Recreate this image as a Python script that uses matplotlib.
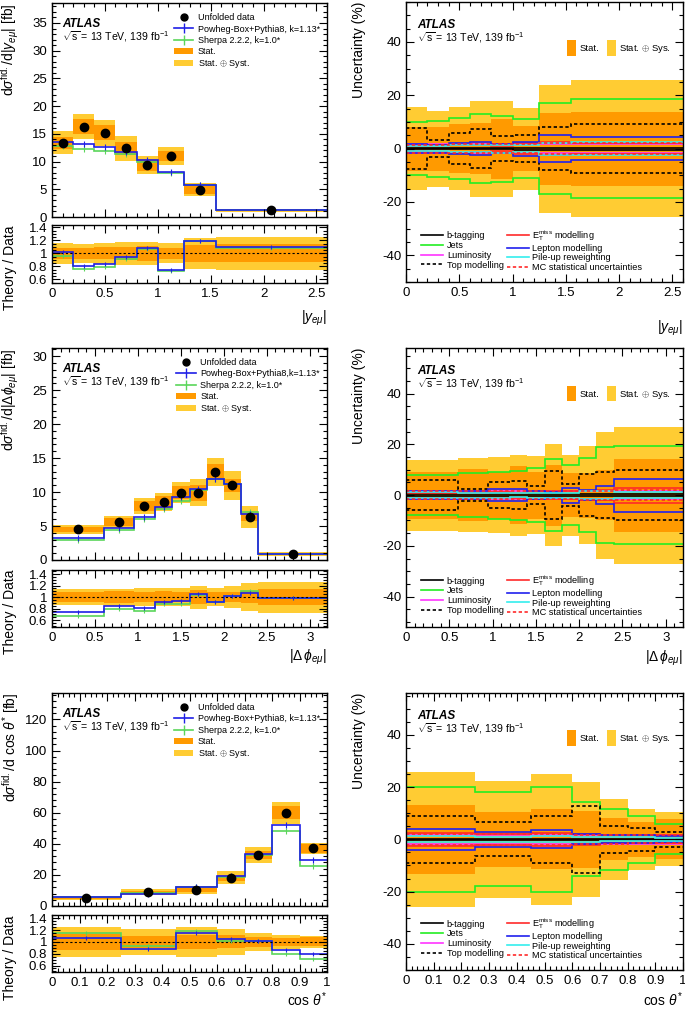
import numpy as np
import matplotlib
matplotlib.use("Agg")
import matplotlib.pyplot as plt
from matplotlib.ticker import MultipleLocator, FormatStrFormatter
from matplotlib.lines import Line2D
from matplotlib.patches import Patch

plt.rcParams["font.family"] = ["Liberation Sans", "DejaVu Sans"]
plt.rcParams["mathtext.fontset"] = "custom"
plt.rcParams["mathtext.rm"] = "Liberation Sans"
plt.rcParams["mathtext.it"] = "Liberation Sans:italic"
plt.rcParams["mathtext.bf"] = "Liberation Sans:bold"

# |y_emu|
y_edges = [0, 0.2, 0.4, 0.6, 0.8, 1.0, 1.25, 1.55, 2.6]
y_data = [13.4, 16.3, 15.2, 12.4, 9.4, 11.0, 4.9, 1.2]
y_powheg = [13.6, 13.1, 12.6, 11.65, 10.2, 8.2, 5.85, 1.32]
y_sherpa = [12.8, 12.3, 11.9, 11.4, 10.0, 8.0, 5.8, 1.3]
y_stat = [8.2, 8.2, 9.1, 9.5, 11.3, 8.5, 13.5, 13.9]
y_total = [15.6, 14.2, 15.6, 18.0, 18.0, 15.4, 24.0, 25.6]
y_btag = [0.3, 0.3, 0.3, 0.3, 0.3, 0.4, 0.4, 0.4]
y_jets = [9.9, 10.5, 11.4, 12.9, 12.4, 11.0, 17.0, 18.6]
y_lumi = [1.7, 1.7, 1.7, 1.7, 1.7, 1.7, 1.7, 1.7]
y_top = [7.6, 3.2, 5.7, 7.2, 4.8, 5.1, 8.0, 9.2]
y_met = [1.0, 1.2, 1.5, 1.2, 1.0, 2.0, 2.5, 2.0]
y_lep = [1.8, 1.5, 2.0, 2.5, 1.6, 2.6, 5.0, 4.2]
y_pileup = [1.0, 1.0, 1.2, 1.3, 1.5, 1.2, 2.2, 2.5]
y_mcstat = [1.5, 1.5, 1.6, 1.7, 1.7, 1.8, 2.0, 2.0]

# |dphi_emu|
phi_edges = [0, 0.6, 0.95, 1.2, 1.4, 1.6, 1.8, 2.0, 2.2, 2.4, 3.2]
phi_data = [4.5, 5.6, 7.9, 8.5, 9.9, 9.9, 13.0, 11.0, 6.3, 0.9]
phi_powheg = [3.3, 4.75, 6.35, 7.75, 9.2, 10.45, 11.95, 11.2, 6.75, 0.89]
phi_sherpa = [3.0, 4.4, 6.05, 7.45, 8.7, 10.25, 11.9, 11.2, 7.0, 0.89]
phi_stat = [9.3, 10.3, 9.3, 11.3, 9.3, 12.0, 8.7, 8.9, 10.0, 14.4]
phi_total = [14.0, 14.7, 15.0, 16.0, 15.3, 20.0, 16.0, 19.3, 25.0, 27.0]
phi_btag = [0.3, 0.3, 0.3, 0.3, 0.3, 0.3, 0.3, 0.3, 0.4, 0.4]
phi_jets = [8.0, 8.7, 9.3, 9.7, 10.7, 14.3, 11.7, 14.7, 19.0, 19.3]
phi_lumi = [1.7, 1.7, 1.7, 1.7, 1.7, 1.7, 1.7, 1.7, 1.7, 1.7]
phi_top = [6.0, 2.4, 5.0, 5.6, 3.7, 9.6, 4.4, 8.3, 9.0, 10.0]
phi_met = [1.0, 1.0, 1.2, 1.0, 1.5, 1.5, 1.5, 1.5, 2.0, 3.0]
phi_lep = [1.5, 1.5, 2.5, 2.3, 1.5, 1.3, 3.0, 2.0, 3.5, 6.5]
phi_pileup = [1.2, 1.0, 1.0, 0.8, 1.0, 1.0, 1.0, 1.5, 1.5, 1.2]
phi_mcstat = [1.5, 1.5, 1.5, 1.5, 1.6, 1.6, 1.7, 1.8, 1.8, 2.0]

# cos theta*
cos_edges = [0, 0.25, 0.45, 0.6, 0.7, 0.8, 0.9, 1.0]
cos_data = [5.2, 8.8, 10.4, 18.2, 32.7, 60.0, 37.0]
cos_powheg = [5.55, 7.8, 12.0, 19.1, 33.4, 52.2, 29.6]
cos_sherpa = [6.0, 8.15, 12.3, 18.4, 33.0, 48.0, 26.0]
cos_stat = [13.1, 10.6, 11.5, 10.8, 8.0, 6.7, 7.6]
cos_total = [25.9, 22.4, 25.0, 22.1, 15.4, 11.8, 10.3]
cos_btag = [0.3, 0.3, 0.3, 0.3, 0.3, 0.3, 0.3]
cos_jets = [20.2, 18.0, 20.2, 14.1, 11.8, 8.9, 5.8]
cos_lumi = [1.7, 1.7, 1.7, 1.7, 1.7, 1.7, 1.7]
cos_top = [8.9, 6.5, 9.0, 12.7, 5.1, 4.4, 2.9]
cos_met = [2.5, 2.0, 2.5, 2.0, 1.5, 1.5, 1.5]
cos_lep = [3.9, 2.9, 3.5, 1.9, 1.5, 1.5, 1.2]
cos_pileup = [1.2, 1.0, 1.2, 1.0, 0.8, 0.8, 0.7]
cos_mcstat = [2.0, 2.0, 2.0, 1.7, 1.6, 1.5, 1.5]

ORANGE = "#ff9a00"
YELLOW = "#ffcc33"
BLUE = "#1f1fe6"
GREEN = "#5ad65a"

W, H = 685, 1010
fig = plt.figure(figsize=(W / 100, H / 100), dpi=100)


def box(x0, y0, x1, y1):
    return [x0 / W, 1 - y1 / H, (x1 - x0) / W, (y1 - y0) / H]


def style(ax, xmaj, xmin, ymaj, ymin):
    ax.xaxis.set_major_locator(MultipleLocator(xmaj))
    ax.xaxis.set_minor_locator(MultipleLocator(xmin))
    ax.yaxis.set_major_locator(MultipleLocator(ymaj))
    ax.yaxis.set_minor_locator(MultipleLocator(ymin))
    ax.tick_params(which="both", direction="in", top=True, right=True, labelsize=9.5)
    ax.tick_params(which="major", length=6, width=0.8)
    ax.tick_params(which="minor", length=3, width=0.8)
    ax.xaxis.set_major_formatter(FormatStrFormatter("%g"))
    ax.yaxis.set_major_formatter(FormatStrFormatter("%g"))
    for s in ax.spines.values():
        s.set_linewidth(1.0)


def atlas(ax, x, y, dy):
    ax.text(x, y, "ATLAS", transform=ax.transAxes, fontsize=8.5,
            fontweight="bold", fontstyle="italic", va="center")
    ax.text(x, y - dy, r"$\sqrt{\mathrm{s}}$ = 13 TeV, 139 fb$^{-1}$",
            transform=ax.transAxes, fontsize=7.6, va="center")


def row(top, edges, data, powheg, sherpa, stat, total, systs, xmaj, xmin,
        ymain, ymaj, ymin, rlim, xlabel, ylabel, urlim, xlab_off, rxlab_off):
    t0, t1, r0, r1, u0, u1 = top
    edges = np.array(edges)
    data = np.array(data)
    powheg = np.array(powheg)
    sherpa = np.array(sherpa)
    stat = np.array(stat) / 100
    total = np.array(total) / 100
    centers = 0.5 * (edges[1:] + edges[:-1])

    # main panel
    ax = fig.add_axes(box(52, t0, 327, t1))
    ax.stairs(data * (1 + total), edges, baseline=data * (1 - total),
              fill=True, color=YELLOW, lw=0)
    ax.stairs(data * (1 + stat), edges, baseline=data * (1 - stat),
              fill=True, color=ORANGE, lw=0)
    ax.stairs(sherpa, edges, baseline=None, color=GREEN, lw=1.2)
    ax.plot(centers, sherpa, ls="none", marker="|", ms=4, color=GREEN, mew=0.8)
    ax.stairs(powheg, edges, baseline=None, color=BLUE, lw=1.2)
    ax.plot(centers, powheg, ls="none", marker="|", ms=4, color=BLUE, mew=0.8)
    ax.plot(centers, data, "o", color="black", ms=6)
    ax.set_xlim(edges[0], edges[-1])
    ax.set_ylim(0, ymain)
    style(ax, xmaj, xmin, ymaj, ymin)
    ax.tick_params(labelbottom=False)
    ax.set_ylabel(ylabel, loc="top", fontsize=10)
    ax.yaxis.set_label_coords(-31 / 275, 1)
    atlas(ax, 0.036, 0.9, 0.057)
    handles = [
        Line2D([], [], ls="none", marker="o", color="black", ms=5),
        Line2D([], [], color=BLUE, lw=1.2, marker="|", ms=7),
        Line2D([], [], color=GREEN, lw=1.2, marker="|", ms=7),
        Patch(color=ORANGE, lw=0),
        Patch(color=YELLOW, lw=0),
    ]
    labels = ["Unfolded data", "Powheg-Box+Pythia8, k=1.13*",
              "Sherpa 2.2.2, k=1.0*", "Stat.", "Stat. $\\oplus$ Syst."]
    if "phi" in xlabel:
        labels[1] = "Powheg-Box+Pythia8,k=1.13*"
    ax.legend(handles, labels, loc="upper right", bbox_to_anchor=(0.975, 0.952),
              frameon=False, fontsize=6.5, handlelength=2.2, handletextpad=0.5,
              labelspacing=0.25, borderpad=0, borderaxespad=0, numpoints=1)

    # ratio panel
    rx = fig.add_axes(box(52, r0, 327, r1))
    rx.stairs(1 + total, edges, baseline=1 - total, fill=True, color=YELLOW, lw=0)
    rx.stairs(1 + stat, edges, baseline=1 - stat, fill=True, color=ORANGE, lw=0)
    rx.axhline(1, color="black", ls=(0, (2, 2)), lw=0.8)
    rx.stairs(sherpa / data, edges, baseline=None, color=GREEN, lw=1.2)
    rx.plot(centers, sherpa / data, ls="none", marker="|", ms=3, color=GREEN, mew=0.8)
    rx.stairs(powheg / data, edges, baseline=None, color=BLUE, lw=1.2)
    rx.plot(centers, powheg / data, ls="none", marker="|", ms=3, color=BLUE, mew=0.8)
    rx.set_xlim(edges[0], edges[-1])
    rx.set_ylim(*rlim)
    style(rx, xmaj, xmin, 0.2, 0.05)
    rx.set_ylabel("Theory / Data", loc="top", fontsize=10)
    rx.yaxis.set_label_coords(-35 / 275, 1)
    rx.set_xlabel(xlabel, loc="right", fontsize=10)
    rx.xaxis.set_label_coords(1, -xlab_off / (r1 - r0))
    rx.xaxis.label.set_va("center")

    # uncertainty panel
    ux = fig.add_axes(box(406, u0, 683, u1))
    ux.stairs(100 * total, edges, baseline=-100 * total, fill=True, color=YELLOW, lw=0)
    ux.stairs(100 * stat, edges, baseline=-100 * stat, fill=True, color=ORANGE, lw=0)
    names = ["b-tagging", "Jets", "Luminosity", "Top modelling",
             "E$_{\\mathrm{T}}^{\\mathrm{miss}}$ modelling", "Lepton modelling",
             "Pile-up reweighting", "MC statistical uncertainties"]
    colors = ["black", "#22ee22", "#ff33ff", "black", "#ff2a2a", "#2020ee",
              "#33eeee", "#ff2a2a"]
    styles = ["-", "-", "-", (0, (2, 1.5)), "-", "-", "-", (0, (2, 1.5))]
    handles = []
    for vals, c, ls, name in zip(systs, colors, styles, names):
        vals = np.array(vals)
        for sign in (1, -1):
            ux.stairs(sign * vals, edges, baseline=None, color=c, ls=ls, lw=1.2)
        handles.append(Line2D([], [], color=c, ls=ls, lw=1.2))
    ux.set_xlim(edges[0], edges[-1])
    ux.set_ylim(*urlim)
    style(ux, xmaj, xmin, 20, 5)
    ux.set_ylabel("Uncertainty (%)", loc="top", fontsize=10)
    ux.yaxis.set_label_coords(-40 / 277, 1)
    ux.set_xlabel(xlabel, loc="right", fontsize=10)
    ux.xaxis.set_label_coords(1, -rxlab_off / (u1 - u0))
    ux.xaxis.label.set_va("center")
    atlas(ux, 0.04, 0.918, 0.045)
    leg = ux.legend(handles, names,
                    ncol=2, loc="lower left", bbox_to_anchor=(0.055, 0.035),
                    frameon=False, fontsize=6.6, handlelength=2.4,
                    handletextpad=0.4, labelspacing=0.08, columnspacing=0.3,
                    borderpad=0, borderaxespad=0)
    ux.add_artist(leg)
    ux.legend([Patch(color=ORANGE, lw=0), Patch(color=YELLOW, lw=0)],
              ["Stat.", "Stat. $\\oplus$ Sys."], ncol=2, loc="upper right",
              bbox_to_anchor=(0.955, 0.865), frameon=False, fontsize=6.8,
              handlelength=1.0, handleheight=2.2, handletextpad=0.3,
              columnspacing=0.8, borderpad=0, borderaxespad=0)


row((3, 217, 225, 283, 2, 282), y_edges, y_data, y_powheg, y_sherpa, y_stat,
    y_total, [y_btag, y_jets, y_lumi, y_top, y_met, y_lep, y_pileup, y_mcstat],
    0.5, 0.1, 38.6, 5, 1, (0.545, 1.435), r"$|y_{e\mu}|$",
    r"d$\sigma^{\mathrm{fid.}}$/d$|y_{e\mu}|$ [fb]", (-50, 55), 35, 46)

row((348, 560, 570, 627, 348, 627), phi_edges, phi_data, phi_powheg,
    phi_sherpa, phi_stat, phi_total,
    [phi_btag, phi_jets, phi_lumi, phi_top, phi_met, phi_lep, phi_pileup,
     phi_mcstat],
    0.5, 0.1, 31.2, 5, 1, (0.48, 1.47), r"$|\Delta\,\phi_{e\mu}|$",
    r"d$\sigma^{\mathrm{fid.}}$/d$|\Delta\phi_{e\mu}|$ [fb]", (-52, 58), 30, 31)

row((693, 906, 915, 972, 693, 970), cos_edges, cos_data, cos_powheg,
    cos_sherpa, cos_stat, cos_total,
    [cos_btag, cos_jets, cos_lumi, cos_top, cos_met, cos_lep, cos_pileup,
     cos_mcstat],
    0.1, 0.02, 137, 20, 4, (0.49, 1.455), r"cos $\theta^{*}$",
    r"d$\sigma^{\mathrm{fid.}}$/d cos $\theta^{*}$ [fb]", (-50, 56), 28, 30)

fig.savefig("out.png", dpi=100)
